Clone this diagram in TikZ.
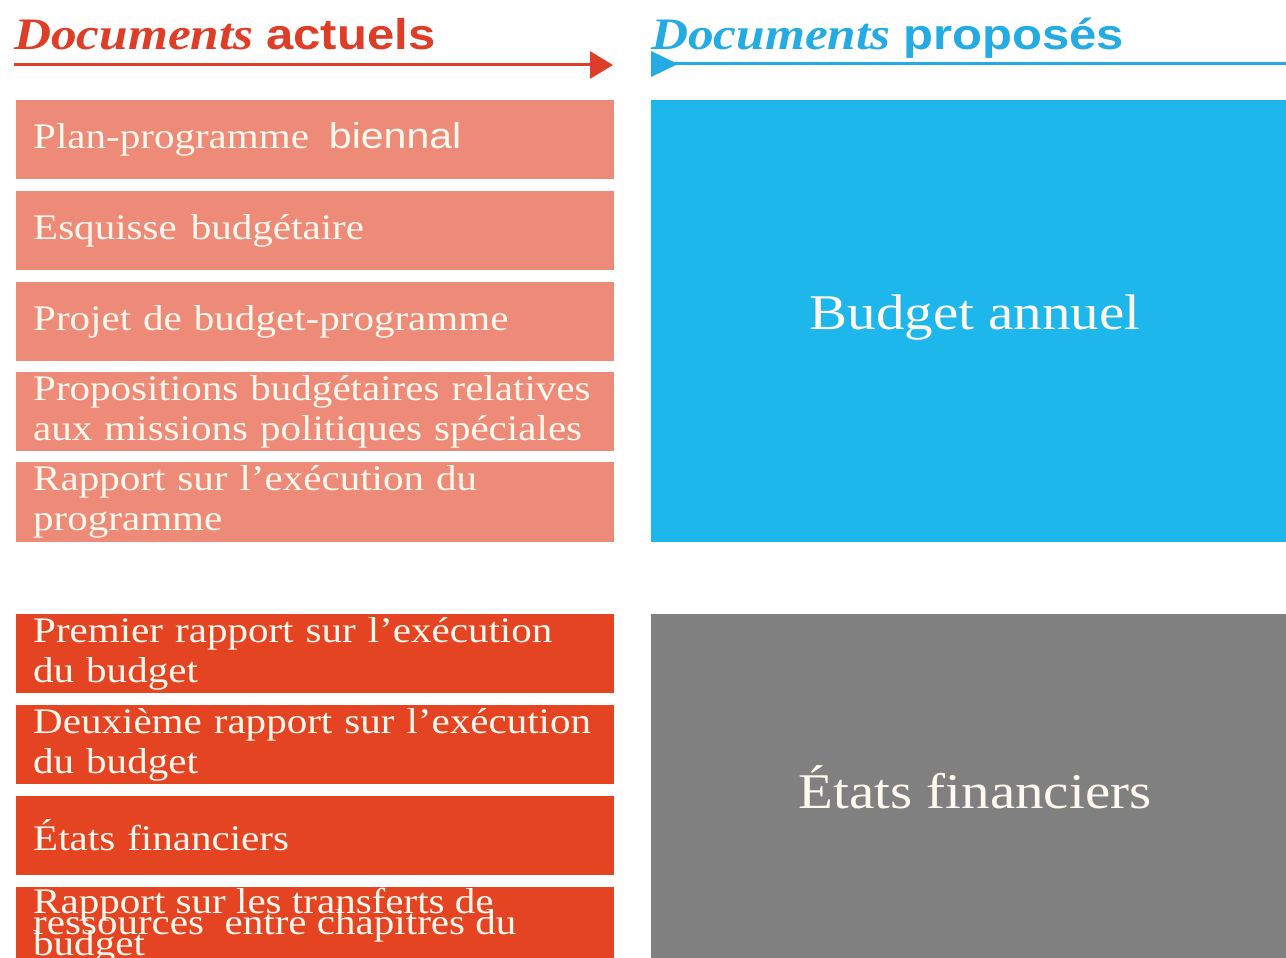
\documentclass[tikz,border=0pt]{standalone}
\usepackage{fontspec}
\setmainfont{Liberation Serif}[FakeStretch=1.14]
\setsansfont{Liberation Sans}[FakeStretch=1.14]
\usetikzlibrary{arrows.meta}
\definecolor{salmon}{RGB}{238,139,120}
\definecolor{redorange}{RGB}{229,68,35}
\definecolor{skyblue}{RGB}{30,183,235}
\definecolor{midgrey}{RGB}{128,128,128}
\definecolor{titlered}{RGB}{222,62,40}
\definecolor{titleblue}{RGB}{36,172,226}
\definecolor{cream}{RGB}{255,248,238}
\tikzset{
  docbox/.style={rectangle, anchor=north west, minimum width=598pt, inner xsep=17pt,
    inner ysep=0pt, text width=564pt, align=left, text=cream,
    font=\fontsize{36}{40}\selectfont},
  bigbox/.style={rectangle, anchor=north west, minimum width=635pt, inner sep=0pt},
  bigtext/.style={text=cream, font=\fontsize{50}{56}\selectfont},
  titletext/.style={anchor=base west, inner sep=0pt},
  tighttext/.style={anchor=base west, inner sep=0pt, text=cream, align=left,
    font={\fontsize{36}{21}\selectfont\lineskiplimit=-100pt\lineskip=0pt}},
}
\begin{document}
\begin{tikzpicture}[x=1pt,y=-1pt]
\useasboundingbox (0,0) rectangle (1286,958);

% headings
\node[titletext, text=titlered] (t1) at (14,50)
  {\fontsize{45}{45}\selectfont\bfseries\itshape Documents\/ \sffamily\upshape\fontsize{43}{43}\selectfont actuels};
\node[titletext, text=titleblue] (t2) at (651,50)
  {\fontsize{45}{45}\selectfont\bfseries\itshape Documents\/ \sffamily\upshape\fontsize{43}{43}\selectfont proposés};

% heading arrows
\coordinate (a1s) at (14,65);
\coordinate (a1e) at (613,65);
\draw[titlered, line width=3pt, -{Triangle[length=23pt,width=27pt]}] (a1s) -- (a1e);
\coordinate (a2s) at (651,64);
\coordinate (a2e) at (1286,64);
\draw[titleblue, line width=3pt] (a2s) -- (a2e);
\fill[titleblue] (651,51) -- (678,64) -- (651,77) -- cycle;

% current documents, first group
\node[docbox, fill=salmon, minimum height=79pt] (p1) at (16,100) {Plan-programme\hspace{20pt}\textsf{biennal}};
\node[docbox, fill=salmon, minimum height=79pt] (p2) at (16,191) {Esquisse\hspace{14pt}budgétaire};
\node[docbox, fill=salmon, minimum height=79pt] (p3) at (16,282) {Projet de budget-programme};
\node[docbox, fill=salmon, minimum height=79pt] (p4) at (16,372) {Propositions budgétaires relatives\\aux missions politiques spéciales};
\node[docbox, fill=salmon, minimum height=80pt] (p5) at (16,462) {Rapport sur l’exécution du\\programme};

% current documents, second group
\node[docbox, fill=redorange, minimum height=79pt] (r1) at (16,614) {Premier rapport sur l’exécution\\du budget};
\node[docbox, fill=redorange, minimum height=79pt] (r2) at (16,705) {Deuxième rapport sur l’exécution\\du budget};
\node[docbox, fill=redorange, minimum height=79pt] (r3) at (16,796) {États financiers};
\node[docbox, fill=redorange, minimum height=80pt] (r4) at (16,887) {};
\node[tighttext] (r4t) at (33,955)
  {Rapport sur les transferts de\\ressources \ entre chapitres du\\budget};

% proposed documents
\node[bigbox, fill=skyblue, minimum height=442pt] (n1) at (651,100) {};
\node[bigtext] (n1t) at (975,318) {Budget annuel};
\node[bigbox, fill=midgrey, minimum height=350pt] (n2) at (651,614) {};
\node[bigtext] (n2t) at (975,787) {États financiers};
\end{tikzpicture}
\end{document}
